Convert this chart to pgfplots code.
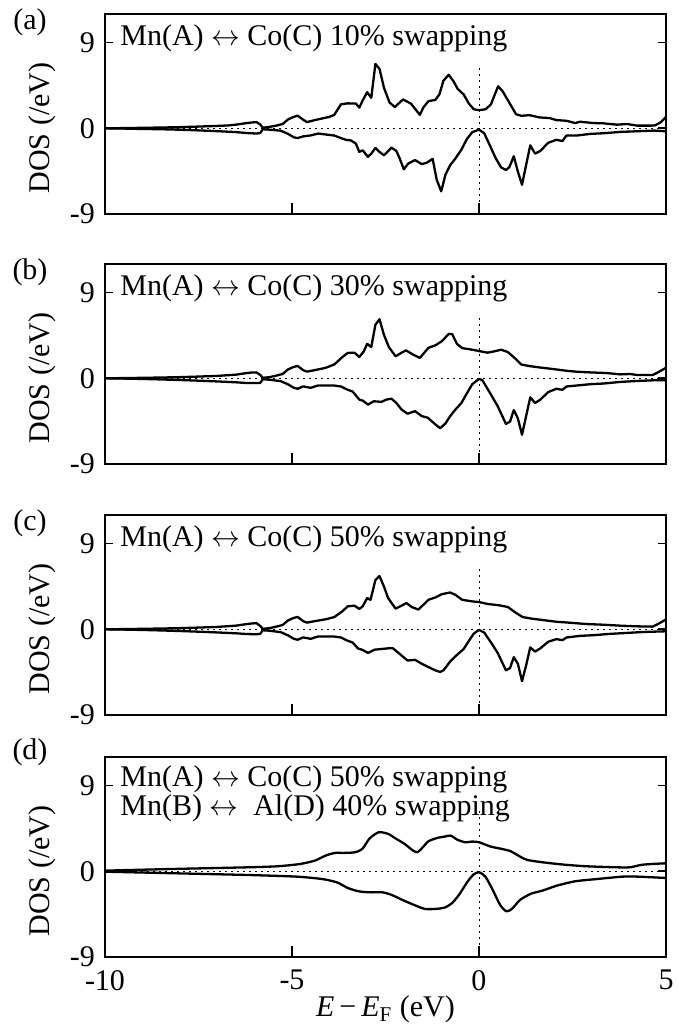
\documentclass[border=0pt]{standalone}
\usepackage{fontspec}
\setmainfont{Liberation Serif}
\usepackage{pgfplots}
\pgfplotsset{compat=1.18}

\pgfplotsset{
  dospanel/.style={
    scale only axis, width=280.5pt, height=100pt,
    xmin=-10, xmax=5, ymin=-9, ymax=12,
    xtick={-10,-5,0,5}, ytick={-9,0,9},
    xtick pos=bottom, tick align=inside,
    major tick length=4pt,
    xtick style={/pgfplots/major tick length=5.5pt},
    axis line style={line width=0.9pt},
    every tick/.style={black, line width=0.8pt},
    /pgf/number format/assume math mode=true,
    yticklabel style={xshift=-1.5pt},
    xticklabel style={yshift=-3pt},
    ylabel={DOS (/eV)},
    ylabel style={at={(ticklabel cs:0.43)}},
    clip=false,
    anchor=north west,
  },
  dos/.style={black, line width=1.15pt, line join=round},
  zeroline/.style={black, line width=0.5pt, dash pattern=on 1pt off 2pt},
}

\begin{document}
\begin{tikzpicture}[font=\fontsize{15}{18}\selectfont]

% (a)
\begin{axis}[dospanel, at={(52.5pt,-7pt)}, xticklabels={}]
\addplot[zeroline] coordinates {(-10,0) (5,0)};
\addplot[zeroline] coordinates {(0,-9) (0,6.5)};
\addplot[dos] coordinates {
(-10,0) (-9.5,0.02) (-9,0.05) (-8.5,0.08) (-8,0.12) (-7.5,0.18) (-7,0.25) (-6.7,0.3) (-6.5,0.38) (-6.3,0.5) (-6.1,0.6) (-5.95,0.65) (-5.85,0.4) (-5.78,0.05) (-5.6,0.15) (-5.4,0.3) (-5.25,0.45) (-5.1,0.95) (-4.95,1.2) (-4.85,1.33) (-4.7,0.9) (-4.6,0.65) (-4.4,0.85) (-4.15,1.07) (-4.0,1.2) (-3.87,1.41) (-3.69,2.52) (-3.51,2.62) (-3.29,2.59) (-3.2,2.17) (-3.11,2.93) (-2.99,3.79) (-2.88,3.2) (-2.77,6.76) (-2.66,6.24) (-2.54,4.24) (-2.39,2.69) (-2.25,2.24) (-2.03,3.03) (-1.82,2.59) (-1.58,1.41) (-1.49,2.17) (-1.35,2.86) (-1.17,2.97) (-1.06,3.55) (-0.95,5.0) (-0.81,5.62) (-0.68,4.93) (-0.57,4.14) (-0.41,3.55) (-0.27,2.59) (-0.14,2.0) (0,1.9) (0.18,2.0) (0.32,2.52) (0.51,4.41) (0.63,3.9) (0.81,2.69) (0.99,1.48) (1.13,1.31) (1.35,1.38) (1.62,1.14) (1.89,1.07) (2.07,0.86) (2.34,0.79) (2.57,0.55) (2.7,0.69) (3.06,0.55) (3.33,0.52) (3.69,0.38) (3.96,0.45) (4.23,0.28) (4.59,0.28) (4.7,0.3) (4.85,0.6) (5,1.2)
};
\addplot[dos] coordinates {
(-10,0) (-9.5,-0.03) (-9,-0.07) (-8.5,-0.1) (-8,-0.15) (-7.5,-0.22) (-7,-0.3) (-6.5,-0.4) (-6.2,-0.5) (-5.95,-0.55) (-5.85,-0.5) (-5.78,-0.1) (-5.6,-0.15) (-5.3,-0.25) (-5.1,-0.6) (-4.95,-0.95) (-4.85,-1.03) (-4.7,-0.85) (-4.5,-0.75) (-4.3,-0.55) (-4.1,-0.65) (-3.87,-0.76) (-3.69,-1.03) (-3.56,-1.21) (-3.42,-1.28) (-3.29,-1.62) (-3.2,-2.48) (-3.11,-2.31) (-2.97,-3.0) (-2.88,-2.66) (-2.77,-2.07) (-2.66,-2.48) (-2.54,-2.83) (-2.34,-2.03) (-2.21,-2.38) (-2.12,-3.17) (-2.01,-4.31) (-1.89,-3.69) (-1.71,-3.34) (-1.53,-3.76) (-1.4,-3.62) (-1.24,-3.21) (-1.13,-5.41) (-1.01,-6.62) (-0.9,-4.9) (-0.77,-3.86) (-0.63,-3.17) (-0.47,-2.24) (-0.32,-1.1) (-0.18,-0.41) (0,-0.14) (0.14,-0.52) (0.27,-1.62) (0.45,-3.17) (0.59,-4.1) (0.72,-4.38) (0.81,-4.1) (0.93,-2.93) (1.04,-4.55) (1.15,-5.93) (1.26,-3.86) (1.37,-1.79) (1.5,-2.66) (1.64,-2.38) (1.85,-1.52) (2.07,-1.21) (2.23,-1.34) (2.34,-0.76) (2.61,-0.76) (2.97,-0.59) (3.33,-0.52) (3.78,-0.38) (4.23,-0.31) (4.68,-0.24) (5,-0.31)
};
\node[anchor=west, inner sep=0pt] at (axis cs:-9.6,9.4) {Mn(A) $\leftrightarrow$ Co(C) 10\% swapping};
\node[xshift=-37.5pt, yshift=-4pt] at (rel axis cs:0,1) {(a)};
\end{axis}

% (b)
\begin{axis}[dospanel, at={(52.5pt,-132pt)}, xticklabels={}]
\addplot[zeroline] coordinates {(-10,0) (5,0)};
\addplot[zeroline] coordinates {(0,-9) (0,6.5)};
\addplot[dos] coordinates {
(-10,0) (-9.5,0.02) (-9,0.05) (-8.5,0.08) (-8,0.12) (-7.5,0.18) (-7,0.25) (-6.5,0.38) (-6.3,0.5) (-6.1,0.6) (-5.95,0.62) (-5.85,0.35) (-5.78,0.05) (-5.6,0.12) (-5.4,0.3) (-5.25,0.45) (-5.1,0.95) (-4.95,1.2) (-4.85,1.3) (-4.7,0.85) (-4.6,0.7) (-4.4,0.85) (-4.1,1.1) (-3.87,1.45) (-3.65,2.24) (-3.51,2.66) (-3.33,2.69) (-3.2,2.24) (-3.08,2.83) (-2.99,3.62) (-2.88,3.28) (-2.77,5.62) (-2.66,6.2) (-2.54,4.55) (-2.41,3.28) (-2.23,2.31) (-2.07,2.69) (-1.95,2.93) (-1.76,2.48) (-1.58,2.14) (-1.35,3.21) (-1.17,3.45) (-0.99,3.9) (-0.81,4.66) (-0.72,4.66) (-0.59,3.62) (-0.45,3.17) (-0.18,3.0) (0,2.86) (0.23,2.69) (0.41,2.83) (0.59,3.0) (0.77,2.76) (0.95,2.14) (1.13,1.45) (1.35,1.28) (1.62,1.14) (1.98,0.97) (2.34,0.79) (2.61,0.69) (2.97,0.62) (3.42,0.55) (3.78,0.41) (4.05,0.45) (4.23,0.34) (4.64,0.34) (4.77,0.59) (5,1.1)
};
\addplot[dos] coordinates {
(-10,0) (-9.5,-0.03) (-9,-0.07) (-8.5,-0.12) (-8,-0.18) (-7.5,-0.25) (-7,-0.33) (-6.5,-0.42) (-6.2,-0.5) (-5.95,-0.5) (-5.85,-0.48) (-5.78,-0.1) (-5.6,-0.15) (-5.3,-0.3) (-5.1,-0.65) (-4.95,-1.0) (-4.85,-1.1) (-4.7,-0.85) (-4.5,-1.0) (-4.3,-0.75) (-4.0,-0.75) (-3.87,-0.76) (-3.69,-0.86) (-3.51,-1.21) (-3.38,-1.38) (-3.2,-2.24) (-3.11,-2.34) (-2.97,-2.76) (-2.81,-2.41) (-2.61,-2.48) (-2.48,-2.24) (-2.34,-2.14) (-2.21,-2.59) (-2.07,-3.28) (-1.91,-3.72) (-1.71,-3.45) (-1.53,-3.97) (-1.37,-4.14) (-1.17,-4.83) (-1.04,-5.24) (-0.9,-4.76) (-0.77,-3.97) (-0.63,-3.28) (-0.47,-2.59) (-0.32,-1.55) (-0.18,-0.62) (0,-0.07) (0.09,-0.2) (0.27,-1.38) (0.5,-2.93) (0.72,-4.79) (0.83,-4.55) (0.93,-3.34) (1.04,-4.21) (1.15,-5.93) (1.26,-3.97) (1.37,-2.0) (1.5,-2.59) (1.64,-2.24) (1.85,-1.45) (2.07,-1.1) (2.23,-1.21) (2.34,-0.86) (2.61,-0.76) (2.97,-0.62) (3.33,-0.55) (3.78,-0.38) (4.23,-0.28) (4.68,-0.21) (5,-0.21)
};
\node[anchor=west, inner sep=0pt] at (axis cs:-9.6,9.4) {Mn(A) $\leftrightarrow$ Co(C) 30\% swapping};
\node[xshift=-37.5pt, yshift=-4pt] at (rel axis cs:0,1) {(b)};
\end{axis}

% (c)
\begin{axis}[dospanel, at={(52.5pt,-257.5pt)}, xticklabels={}]
\addplot[zeroline] coordinates {(-10,0) (5,0)};
\addplot[zeroline] coordinates {(0,-9) (0,6.5)};
\addplot[dos] coordinates {
(-10,0) (-9.5,0.02) (-9,0.05) (-8.5,0.08) (-8,0.12) (-7.5,0.18) (-7,0.25) (-6.5,0.38) (-6.3,0.5) (-6.1,0.6) (-5.95,0.65) (-5.85,0.35) (-5.78,0.05) (-5.6,0.12) (-5.4,0.3) (-5.25,0.45) (-5.1,0.95) (-4.95,1.2) (-4.85,1.3) (-4.7,0.85) (-4.6,0.7) (-4.4,0.85) (-4.1,1.05) (-3.87,1.28) (-3.65,1.9) (-3.51,2.41) (-3.33,2.48) (-3.2,2.14) (-3.11,2.41) (-2.99,3.28) (-2.9,3.1) (-2.77,5.17) (-2.66,5.59) (-2.54,4.48) (-2.43,3.28) (-2.23,2.17) (-2.07,2.48) (-1.94,2.76) (-1.8,2.34) (-1.62,2.07) (-1.35,3.1) (-1.17,3.34) (-0.99,3.69) (-0.77,3.86) (-0.63,3.62) (-0.45,3.1) (-0.18,2.93) (0,2.86) (0.23,2.66) (0.54,2.52) (0.77,2.34) (0.99,1.72) (1.17,1.28) (1.44,1.1) (1.71,0.97) (2.07,0.79) (2.43,0.69) (2.88,0.55) (3.33,0.48) (3.78,0.38) (4.23,0.31) (4.64,0.28) (4.77,0.52) (5,1.03)
};
\addplot[dos] coordinates {
(-10,0) (-9.5,-0.03) (-9,-0.07) (-8.5,-0.12) (-8,-0.18) (-7.5,-0.25) (-7,-0.33) (-6.5,-0.42) (-6.2,-0.5) (-5.95,-0.52) (-5.85,-0.48) (-5.78,-0.1) (-5.6,-0.15) (-5.3,-0.3) (-5.1,-0.65) (-4.95,-1.0) (-4.85,-1.1) (-4.7,-0.85) (-4.5,-1.0) (-4.3,-0.75) (-4.0,-0.75) (-3.87,-0.76) (-3.69,-0.86) (-3.51,-1.21) (-3.38,-1.38) (-3.24,-2.0) (-3.11,-2.17) (-2.97,-2.48) (-2.79,-2.14) (-2.61,-2.07) (-2.43,-2.0) (-2.3,-2.0) (-2.12,-2.59) (-1.91,-3.28) (-1.71,-3.21) (-1.53,-3.62) (-1.35,-3.97) (-1.17,-4.31) (-1.04,-4.48) (-0.95,-4.31) (-0.77,-3.38) (-0.59,-2.69) (-0.41,-2.07) (-0.27,-1.21) (-0.14,-0.45) (0,-0.07) (0.14,-0.34) (0.32,-1.38) (0.5,-2.48) (0.72,-4.31) (0.83,-4.07) (0.93,-2.93) (1.04,-3.62) (1.15,-5.45) (1.26,-3.79) (1.37,-1.9) (1.5,-2.34) (1.64,-2.0) (1.85,-1.31) (2.07,-1.03) (2.23,-1.14) (2.34,-0.86) (2.7,-0.69) (3.06,-0.62) (3.51,-0.48) (3.96,-0.38) (4.41,-0.28) (5,-0.21)
};
\node[anchor=west, inner sep=0pt] at (axis cs:-9.6,9.4) {Mn(A) $\leftrightarrow$ Co(C) 50\% swapping};
\node[xshift=-37.5pt, yshift=-4pt] at (rel axis cs:0,1) {(c)};
\end{axis}

% (d)
\begin{axis}[dospanel, at={(52.5pt,-378.5pt)},
  xlabel={\textit{E}\,−\,\textit{E}\textsubscript{F} (eV)},
  xlabel style={yshift=4pt}]
\addplot[zeroline] coordinates {(-10,0) (5,0)};
\addplot[zeroline] coordinates {(0,-9) (0,6.5)};
\addplot[dos, smooth, tension=0.4] coordinates {
(-10,0.07) (-8.12,0.25) (-6.16,0.42) (-5.37,0.53) (-4.78,0.77) (-4.39,1.12) (-4.1,1.65) (-3.85,1.93) (-3.61,1.93) (-3.31,2.0) (-3.12,2.35) (-2.92,3.47) (-2.68,4.1) (-2.43,3.93) (-2.24,3.47) (-1.99,2.88) (-1.79,2.25) (-1.65,2.0) (-1.5,2.53) (-1.35,3.16) (-1.11,3.51) (-0.91,3.65) (-0.76,3.75) (-0.57,3.3) (-0.37,3.05) (-0.18,3.12) (0,3.05) (0.31,2.6) (0.61,2.35) (0.85,2.1) (1.1,1.54) (1.29,1.19) (1.69,0.95) (2.27,0.7) (2.86,0.53) (3.65,0.42) (4.04,0.42) (4.33,0.67) (4.63,0.77) (5,0.84)
};
\addplot[dos, smooth, tension=0.4] coordinates {
(-10,-0.04) (-8.12,-0.21) (-6.16,-0.39) (-4.88,-0.56) (-4.2,-0.81) (-3.8,-1.16) (-3.51,-1.75) (-3.22,-2.1) (-2.92,-2.21) (-2.58,-2.21) (-2.33,-2.49) (-2.04,-3.02) (-1.75,-3.51) (-1.45,-3.95) (-1.16,-3.95) (-0.91,-3.8) (-0.71,-3.3) (-0.52,-2.39) (-0.32,-1.16) (-0.15,-0.35) (0,-0.1) (0.17,-0.56) (0.36,-1.9) (0.56,-3.5) (0.73,-4.2) (0.88,-3.95) (1.1,-3.0) (1.39,-2.35) (1.69,-2.04) (2.08,-1.51) (2.57,-1.05) (3.16,-0.81) (3.84,-0.56) (4.24,-0.56) (4.63,-0.63) (5,-0.7)
};
\node[anchor=west, inner sep=0pt] at (axis cs:-9.6,9.7) {Mn(A) $\leftrightarrow$ Co(C) 50\% swapping};
\node[anchor=west, inner sep=0pt] at (axis cs:-9.6,6.65) {Mn(B) $\leftrightarrow$\ \ Al(D) 40\% swapping};
\node[xshift=-37.5pt, yshift=2.5pt] at (rel axis cs:0,1) {(d)};
\end{axis}

\pgfresetboundingbox
\path (0,0) rectangle (339pt,-515pt);
\end{tikzpicture}
\end{document}
